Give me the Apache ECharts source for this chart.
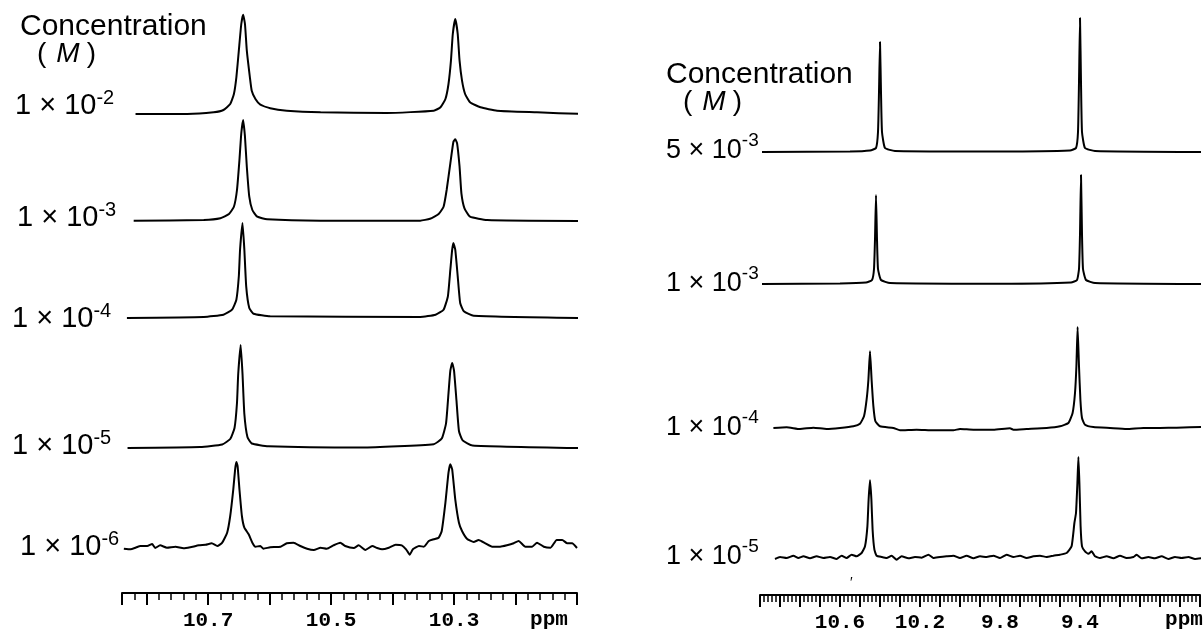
<!DOCTYPE html>
<html>
<head>
<meta charset="utf-8">
<script src="https://cdn.jsdelivr.net/npm/echarts@6/dist/echarts.min.js"></script>
<style>
  html, body { margin: 0; background: #fff; }
  #chart { width: 1203px; height: 636px; }
</style>
</head>
<body>
<div id="chart"></div>
<script>
// ---- data: [ppm, intensity (a.u.)] ----
// left panel, concentration series
const left_1e2 = [[10.818,0],[10.734,0],[10.691,1.7],[10.675,4],[10.664,10],[10.658,20],[10.654,36.7],[10.650,63.3],[10.646,90],[10.643,99.3],[10.640,90],[10.637,63.3],[10.632,36.7],[10.629,23.3],[10.623,15],[10.615,9.3],[10.599,5.7],[10.572,3.3],[10.517,1.7],[10.409,1],[10.333,3.3],[10.322,6.7],[10.314,15],[10.309,30],[10.305,53.3],[10.302,80],[10.298,95],[10.294,80],[10.291,53.3],[10.287,33.3],[10.282,20],[10.274,11.7],[10.257,6.7],[10.230,3.3],[10.165,1.7],[10.093,0]]
const left_1e3 = [[10.821,0.3],[10.707,1],[10.680,2.7],[10.666,7],[10.658,14.3],[10.653,31],[10.649,61],[10.646,87.7],[10.643,101],[10.640,84.3],[10.637,54.3],[10.633,24.3],[10.628,11],[10.620,4.3],[10.604,1.7],[10.517,0.3],[10.355,0.3],[10.339,2.3],[10.325,7],[10.317,14.3],[10.312,31],[10.306,57.7],[10.301,79.3],[10.298,81.7],[10.295,77.7],[10.291,54.3],[10.288,27.7],[10.283,12.7],[10.274,4.3],[10.246,1],[10.095,0]]
const left_1e4 = [[10.832,0],[10.707,1],[10.675,3.3],[10.661,8.3],[10.654,18.3],[10.650,41.7],[10.648,68.3],[10.644,95],[10.641,68.3],[10.638,31.7],[10.633,10],[10.626,4.3],[10.599,1.7],[10.355,1],[10.330,3.3],[10.317,8.3],[10.310,21.7],[10.306,48.3],[10.303,68.3],[10.301,75],[10.298,68.3],[10.294,41.7],[10.290,15],[10.284,6.7],[10.268,2.3],[10.095,0]]
const left_1e5 = [[10.831,0],[10.713,1],[10.677,3.5],[10.664,9],[10.657,20],[10.653,45],[10.651,74],[10.647,103],[10.644,74],[10.641,34],[10.636,11],[10.629,4.5],[10.602,1.8],[10.450,0.5],[10.333,3.8],[10.320,9.4],[10.313,24.6],[10.309,54.7],[10.306,77.4],[10.303,85],[10.300,77.4],[10.296,47.3],[10.292,17],[10.286,7.6],[10.270,2.6],[10.098,0]]
const left_1e6 = [[10.837,-0.7],[10.826,-1.3],[10.818,0.3],[10.810,2],[10.799,2],[10.791,4],[10.786,0],[10.778,2.7],[10.767,0.3],[10.753,1.3],[10.740,-0.3],[10.729,0.7],[10.715,2.7],[10.704,3.3],[10.694,4.7],[10.685,2],[10.677,5.3],[10.669,15.3],[10.664,32],[10.659,58.7],[10.656,78.7],[10.654,86],[10.652,82],[10.649,58.7],[10.645,32],[10.641,20.3],[10.634,13.7],[10.628,5.3],[10.623,1.3],[10.615,2],[10.610,-0.7],[10.599,0.7],[10.582,1.3],[10.572,4.7],[10.561,5.3],[10.550,2],[10.539,-0.7],[10.528,-2],[10.517,0.3],[10.507,-0.7],[10.496,2.7],[10.485,5.3],[10.477,2],[10.463,0],[10.455,2.7],[10.444,-2],[10.433,2],[10.425,0],[10.417,-1.3],[10.406,0.3],[10.395,3.3],[10.385,2.7],[10.378,-1.3],[10.372,-6.7],[10.367,-1.3],[10.357,2],[10.349,1.3],[10.341,7],[10.333,8.7],[10.325,10.3],[10.320,17],[10.314,45.3],[10.309,75.3],[10.306,83.7],[10.303,78.7],[10.298,48.7],[10.292,25.3],[10.287,17],[10.279,9.3],[10.268,6],[10.260,8],[10.249,4.7],[10.238,1.3],[10.225,1.3],[10.214,2.7],[10.203,4.7],[10.195,7],[10.184,1.3],[10.173,1.3],[10.165,5.3],[10.154,1.3],[10.143,0.3],[10.133,8],[10.124,8],[10.116,4.7],[10.108,4.7],[10.100,0]]

// right panel, concentration series
const right_5e3 = [[10.99,0],[10.55,0.5],[10.45,1.5],[10.42,4],[10.41,20],[10.405,60],[10.40,110],[10.395,60],[10.39,20],[10.375,4],[10.325,1],[9.80,0.5],[9.45,1.5],[9.42,4],[9.41,20],[9.405,70],[9.40,134],[9.395,70],[9.39,20],[9.375,4],[9.325,1],[8.79,0]]
const right_1e3 = [[10.99,0],[10.60,0.5],[10.47,1.5],[10.44,4],[10.43,15],[10.425,45],[10.42,89],[10.415,45],[10.41,15],[10.395,4],[10.35,1],[9.80,0.3],[9.445,1.5],[9.415,4],[9.405,15],[9.40,50],[9.395,109],[9.39,50],[9.385,15],[9.37,4],[9.325,1],[8.79,0]]
const right_1e4 = [[10.933,0],[10.867,0.7],[10.800,-1],[10.733,0.3],[10.667,-1],[10.600,0],[10.533,1.7],[10.500,4.3],[10.480,11.7],[10.467,28.3],[10.458,48.3],[10.450,76.7],[10.442,48.3],[10.433,21.7],[10.423,6.7],[10.400,1.7],[10.333,0],[10.300,-2.3],[10.217,-1.7],[10.133,-2.3],[10.033,-2.3],[10.000,-1],[9.933,-1.7],[9.833,-1.7],[9.750,-0.3],[9.733,-1.7],[9.667,-1],[9.567,0],[9.500,1.7],[9.458,5],[9.437,15],[9.425,35],[9.418,61.7],[9.412,101],[9.405,61.7],[9.398,28.3],[9.390,10],[9.375,3.3],[9.333,1],[9.250,0],[9.167,-1],[9.083,0],[9.000,0],[8.917,0.3],[8.783,1]]
const right_1e5 = [[10.925,-2],[10.900,0],[10.867,-1],[10.833,1.3],[10.808,-1],[10.783,0.7],[10.750,-1.3],[10.717,0.7],[10.683,-1],[10.650,0],[10.617,-2],[10.592,1.3],[10.567,-1],[10.542,2.3],[10.517,0.7],[10.492,4],[10.475,10.7],[10.463,30.7],[10.457,57.3],[10.450,76.7],[10.443,57.3],[10.437,27.3],[10.428,7.3],[10.417,1.3],[10.392,0],[10.367,-1],[10.342,1.3],[10.317,-2.7],[10.292,0.7],[10.258,-1.3],[10.225,0],[10.192,-0.7],[10.158,2.3],[10.133,-1],[10.100,0],[10.067,0.7],[10.033,1.3],[10.000,-1],[9.967,1.3],[9.933,-1.3],[9.900,0.7],[9.867,0],[9.833,1.3],[9.800,-1],[9.767,2.3],[9.733,0],[9.700,1.3],[9.667,-1],[9.633,0.7],[9.600,1.3],[9.567,0],[9.533,1.3],[9.500,2.3],[9.467,4],[9.442,10.7],[9.428,34],[9.420,44],[9.413,74],[9.408,100],[9.403,74],[9.397,30.7],[9.390,10.7],[9.375,5.7],[9.358,3.3],[9.342,5.7],[9.325,0.7],[9.300,-1],[9.267,0.7],[9.233,-1.3],[9.200,1.3],[9.167,-1],[9.133,0],[9.117,2.3],[9.092,-1.3],[9.058,0],[9.025,-1.3],[8.992,0.7],[8.958,-2],[8.925,0],[8.892,-1],[8.858,0],[8.825,-2],[8.783,-1]]

// concentration labels (mantissa x 10^exponent, in M)
const leftMantissa = ['1', '1', '1', '1', '1']
const leftExponent = ['-2', '-3', '-4', '-5', '-6']
const rightMantissa = ['5', '1', '1', '1']
const rightExponent = ['-3', '-3', '-4', '-5']

// ppm tick labels and axis extents
const leftTickLabels = ['10.7', '10.5', '10.3']
const rightTickLabels = ['10.6', '10.2', '9.8', '9.4']
const leftRange = [10.1, 10.84]
const rightRange = [8.8, 11.0]

// ---- layout ----
const SANS = '"Liberation Sans", Arial, sans-serif'
const leftPanel = { left: 122, width: 455, range: leftRange, yMin: -10, yMax: 110,
  traces: [left_1e2, left_1e3, left_1e4, left_1e5, left_1e6],
  baselines: [114, 221, 318, 448, 548],
  labelX: [15, 17, 12, 12, 20], labelBottom: [115, 227, 328, 455, 556],
  axisY: 593, fs: 29, sup: 20 }
const rightPanel = { left: 760, width: 440, range: rightRange, yMin: -10, yMax: 140,
  traces: [right_5e3, right_1e3, right_1e4, right_1e5],
  baselines: [152, 284, 428, 557],
  labelX: [666, 666, 666, 666], labelBottom: [157, 290, 434, 563],
  axisY: 595, fs: 27, sup: 19 }

const grids = [], xAxes = [], yAxes = [], series = [], graphic = []

function addTrace (p, data, baseline) {
  const i = grids.length
  grids.push({ left: p.left, width: p.width, top: baseline - p.yMax, height: p.yMax - p.yMin })
  xAxes.push({ gridIndex: i, type: 'value', min: p.range[0], max: p.range[1], inverse: true, show: false })
  yAxes.push({ gridIndex: i, type: 'value', min: p.yMin, max: p.yMax, show: false })
  series.push({
    type: 'line', xAxisIndex: i, yAxisIndex: i, data: data,
    showSymbol: false, clip: false, silent: true, smooth: 0.15,
    lineStyle: { color: '#000', width: 2 }
  })
}

function addAxis (p, labels) {
  const i = grids.length
  grids.push({ left: p.left, width: p.width, top: p.axisY - 10, height: 10 })
  xAxes.push({
    gridIndex: i, type: 'value', min: p.range[0], max: p.range[1], inverse: true,
    interval: 0.1, position: 'bottom',
    axisLine: { show: true, lineStyle: { color: '#000', width: 2 } },
    axisTick: { show: true, length: 12, lineStyle: { color: '#000', width: 2 } },
    minorTick: { show: true, splitNumber: 5, length: 7, lineStyle: { color: '#000', width: 1.5 } },
    splitLine: { show: false },
    axisLabel: {
      margin: 17, color: '#000', fontSize: 21, fontWeight: 'bold',
      fontFamily: '"Liberation Mono", "DejaVu Sans Mono", monospace',
      formatter: v => {
        const s = (Math.round(v * 10) / 10).toFixed(1)
        return labels.includes(s) ? s : ''
      }
    }
  })
  yAxes.push({ gridIndex: i, type: 'value', show: false })
}

function concLabel (p, k, mant, expo) {
  // line box top so that the digits sit on labelBottom
  const top = p.labelBottom[k] - (16 + 0.3465 * p.fs)
  graphic.push({
    type: 'text', x: p.labelX[k], y: top,
    style: {
      text: '{b|' + mant + ' × 10}{s|' + expo + '}',
      fill: '#000', align: 'left', verticalAlign: 'top',
      rich: {
        b: { fontSize: p.fs, fontFamily: SANS, lineHeight: 32, verticalAlign: 'bottom' },
        s: { fontSize: p.sup, fontFamily: SANS, lineHeight: 17, verticalAlign: 'top' }
      }
    }
  })
}

function title (x, y, yM) {
  graphic.push({ type: 'text', x: x, y: y,
    style: { text: 'Concentration', font: '30px ' + SANS, fill: '#000', verticalAlign: 'top' } })
  graphic.push({ type: 'text', x: x + 17, y: yM,
    style: {
      text: '{n|(}{i|M}{n|)}', fill: '#000', verticalAlign: 'top',
      rich: {
        n: { fontSize: 28, fontFamily: SANS, lineHeight: 28 },
        i: { fontSize: 28, fontFamily: SANS, fontStyle: 'italic', lineHeight: 28, padding: [0, 7, 0, 10] }
      }
    } })
}

leftPanel.traces.forEach((d, k) => addTrace(leftPanel, d, leftPanel.baselines[k]))
rightPanel.traces.forEach((d, k) => addTrace(rightPanel, d, rightPanel.baselines[k]))
addAxis(leftPanel, leftTickLabels)
addAxis(rightPanel, rightTickLabels)

leftMantissa.forEach((m, k) => concLabel(leftPanel, k, m, leftExponent[k]))
rightMantissa.forEach((m, k) => concLabel(rightPanel, k, m, rightExponent[k]))
title(20, 12, 40)
title(666, 60, 88)

const ppmFont = 'bold 21px "Liberation Mono", "DejaVu Sans Mono", monospace'
graphic.push({ type: 'text', x: 549, y: 620, style: { text: 'ppm', font: ppmFont, fill: '#000', align: 'center', verticalAlign: 'middle' } })
graphic.push({ type: 'text', x: 1184, y: 620, style: { text: 'ppm', font: ppmFont, fill: '#000', align: 'center', verticalAlign: 'middle' } })
graphic.push({ type: 'text', x: 850, y: 576, style: { text: '′', font: '14px ' + SANS, fill: '#000' } })

const chart = echarts.init(document.getElementById('chart'), null, { renderer: 'canvas' })
chart.setOption({
  animation: false,
  backgroundColor: '#fff',
  textStyle: { fontFamily: SANS },
  grid: grids,
  xAxis: xAxes,
  yAxis: yAxes,
  series: series,
  graphic: graphic
})
</script>
</body>
</html>
